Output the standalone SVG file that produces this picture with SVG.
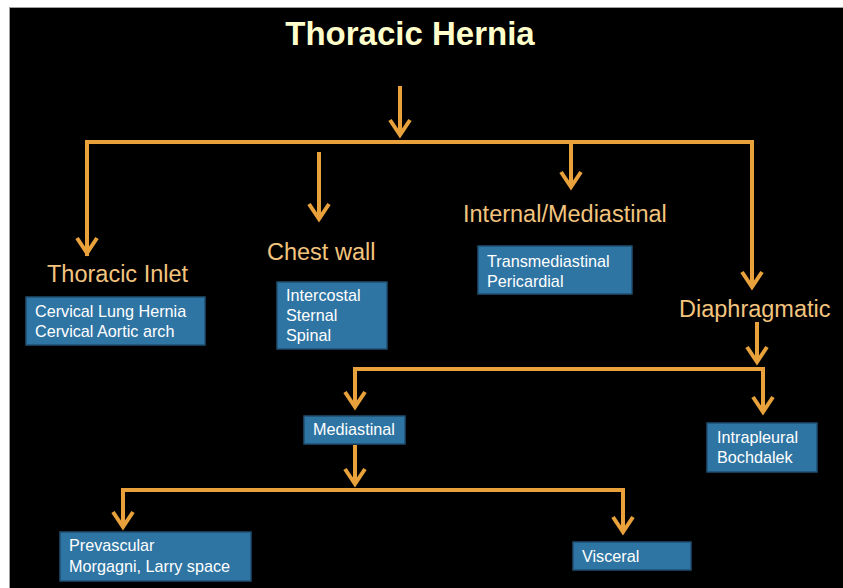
<svg xmlns="http://www.w3.org/2000/svg" width="843" height="588" viewBox="0 0 843 588">
<style>
.ln{stroke:#E9A23B;stroke-width:4;fill:none;stroke-linejoin:miter}
.ar{marker-end:url(#ah)}
.lbl{font-family:"Liberation Sans",Arial,sans-serif;font-size:23.5px;fill:#F2C47E}
.box{fill:#2F75A3;stroke:#1F4F70;stroke-width:1.5}
.bt{font-family:"Liberation Sans",Arial,sans-serif;font-size:16.2px;fill:#FFFFFF}
.title{font-family:"Liberation Sans",Arial,sans-serif;font-size:33px;font-weight:bold;fill:#FFFFCC}
</style>
<defs>
<marker id="ah" markerUnits="userSpaceOnUse" orient="auto" markerWidth="40" markerHeight="40" refX="0" refY="0" viewBox="-20 -20 40 40" overflow="visible">
<path d="M-15,-10 L0,0 L-15,10" fill="none" stroke="#E9A23B" stroke-width="4" stroke-linejoin="miter"/>
</marker>
</defs>
<rect x="0" y="0" width="843" height="588" fill="#FFFFFF"/>
<rect x="9.5" y="7.5" width="840" height="590" fill="#000000" stroke="#A0A0A0" stroke-width="1"/>
<text class="title" x="410" y="45" text-anchor="middle">Thoracic Hernia</text>
<g id="connectors">
<path class="ln ar" d="M400,86 L400,135"/>
<path class="ln" d="M87,256 L87,142 L752,142 L752,150"/>
<path class="ln ar" d="M87,200 L87,253"/>
<path class="ln ar" d="M752,142 L752,287"/>
<path class="ln ar" d="M319,152 L319,219"/>
<path class="ln ar" d="M571,142 L571,187"/>
<path class="ln ar" d="M757,322 L757,362"/>
<path class="ln" d="M355,380 L355,369 L763,369 L763,380"/>
<path class="ln ar" d="M355,369 L355,407"/>
<path class="ln ar" d="M763,369 L763,412"/>
<path class="ln ar" d="M355,445 L355,484"/>
<path class="ln" d="M123,500 L123,490 L623,490 L623,500"/>
<path class="ln ar" d="M123,490 L123,527"/>
<path class="ln ar" d="M623,490 L623,532"/>
</g>
<g id="thoracic-inlet">
<text class="lbl" x="47" y="282">Thoracic Inlet</text>
<rect class="box" x="26" y="297" width="179" height="48"/>
<text class="bt" x="35" y="317">Cervical Lung Hernia</text>
<text class="bt" x="35" y="337">Cervical Aortic arch</text>
</g>
<g id="chest-wall">
<text class="lbl" x="267" y="260">Chest wall</text>
<rect class="box" x="277" y="282" width="110" height="67"/>
<text class="bt" x="286" y="301">Intercostal</text>
<text class="bt" x="286" y="321">Sternal</text>
<text class="bt" x="286" y="341">Spinal</text>
</g>
<g id="internal-mediastinal">
<text class="lbl" x="463" y="222">Internal/Mediastinal</text>
<rect class="box" x="478" y="246" width="154" height="48"/>
<text class="bt" x="487" y="267">Transmediastinal</text>
<text class="bt" x="487" y="287">Pericardial</text>
</g>
<g id="diaphragmatic">
<text class="lbl" x="679" y="317">Diaphragmatic</text>
</g>
<g id="mediastinal">
<rect class="box" x="304" y="416" width="101" height="28"/>
<text class="bt" x="313" y="435">Mediastinal</text>
</g>
<g id="intrapleural">
<rect class="box" x="707" y="423" width="110" height="49"/>
<text class="bt" x="717" y="443">Intrapleural</text>
<text class="bt" x="717" y="463">Bochdalek</text>
</g>
<g id="prevascular">
<rect class="box" x="60" y="532" width="191" height="49"/>
<text class="bt" x="69" y="551">Prevascular</text>
<text class="bt" x="69" y="572">Morgagni, Larry space</text>
</g>
<g id="visceral">
<rect class="box" x="573" y="542" width="118" height="28"/>
<text class="bt" x="582" y="562">Visceral</text>
</g>
</svg>
